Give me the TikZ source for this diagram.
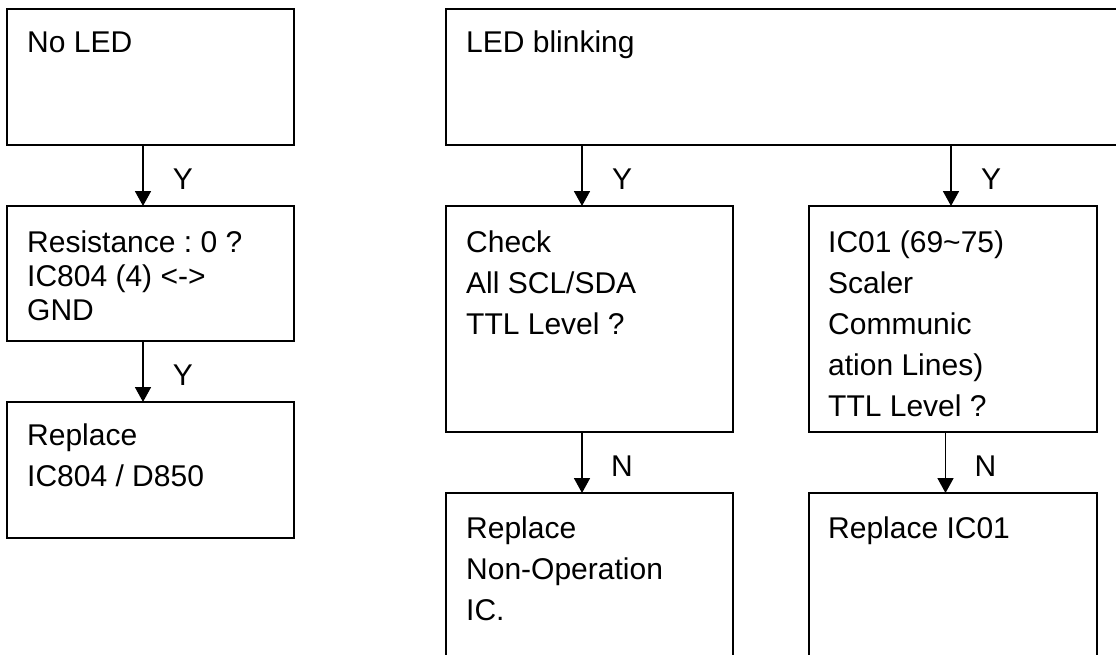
\documentclass[tikz,border=0pt]{standalone}
\usepackage{fontspec}
\setmainfont{Liberation Sans}
\usetikzlibrary{arrows.meta,calc}
\frenchspacing
% stacked lines whose reference point is the baseline of the first line
\newcommand\toplines[1]{\vtop{\halign{##\hfil\cr#1\crcr}}}
\tikzset{
  box/.style={draw, line width=1.8pt, minimum width=287pt, anchor=north west, inner sep=0pt, outer sep=0pt},
  txt/.style={anchor=base west, inner sep=0pt, font=\fontsize{30}{41}\selectfont},
  tight/.style={font=\fontsize{30}{34}\selectfont},
  arr/.style={line width=1.7pt, -{Triangle[length=15pt,width=16pt]}},
  lbl/.style={font=\fontsize{30}{36}\selectfont, inner sep=0pt, midway, xshift=40pt, yshift=-3.5pt},
}
\begin{document}
\begin{tikzpicture}[x=1pt,y=-1pt]
\path[use as bounding box, clip] (0,0) rectangle (1116,654);

% left branch
\node[box, minimum height=136pt] (noled) at (7,9) {};
\node[box, minimum height=135pt] (resist) at (7,206) {};
\node[box, minimum height=136pt] (repl) at (7,402) {};

% right branch
\node[box, minimum width=720pt, minimum height=136pt] (blink) at (446,9) {};
\node[box, minimum height=226pt] (check) at (446,206) {};
\node[box, minimum width=288pt, minimum height=226pt] (scaler) at (809,206) {};
\node[box, minimum height=220pt] (replop) at (446,493) {};
\node[box, minimum width=288pt, minimum height=220pt] (replic) at (809,493) {};

% box texts
\node[txt] at ($(noled.north west)+(20,43)$) {No LED};
\node[txt, tight] at ($(resist.north west)+(20,46)$) {\toplines{Resistance : 0 ?\cr IC804 (4) <->\cr GND}};
\node[txt] at ($(repl.north west)+(20,43)$) {\toplines{Replace\cr IC804 / D850}};
\node[txt] at ($(blink.north west)+(20,43)$) {LED blinking};
\node[txt] at ($(check.north west)+(20,46)$) {\toplines{Check\cr All SCL/SDA\cr TTL Level ?}};
\node[txt] at ($(scaler.north west)+(19,46)$) {\toplines{IC01 (69\textasciitilde 75)\cr Scaler\cr Communic\cr ation Lines)\cr TTL Level ?}};
\node[txt] at ($(replop.north west)+(20,45)$) {\toplines{Replace\cr Non-Operation\cr IC.}};
\node[txt] at ($(replic.north west)+(19,45)$) {Replace IC01};

% connectors
\draw[arr] ([xshift=-7.5pt]noled.south) -- ([xshift=-7.5pt]resist.north) node[lbl] {Y};
\draw[arr] ([xshift=-7.5pt]resist.south) -- ([xshift=-7.5pt]repl.north) node[lbl] {Y};
\draw[arr] ([xshift=-7.5pt]check.north |- blink.south) -- ([xshift=-7.5pt]check.north) node[lbl] {Y};
\draw[arr] ([xshift=-2pt]scaler.north |- blink.south) -- ([xshift=-2pt]scaler.north) node[lbl] {Y};
\draw[arr] ([xshift=-7.5pt]check.south) -- ([xshift=-7.5pt]replop.north) node[lbl] {N};
\draw[arr] ([xshift=-7.5pt]scaler.south) -- ([xshift=-7.5pt]replic.north) node[lbl] {N};
\end{tikzpicture}
\end{document}
